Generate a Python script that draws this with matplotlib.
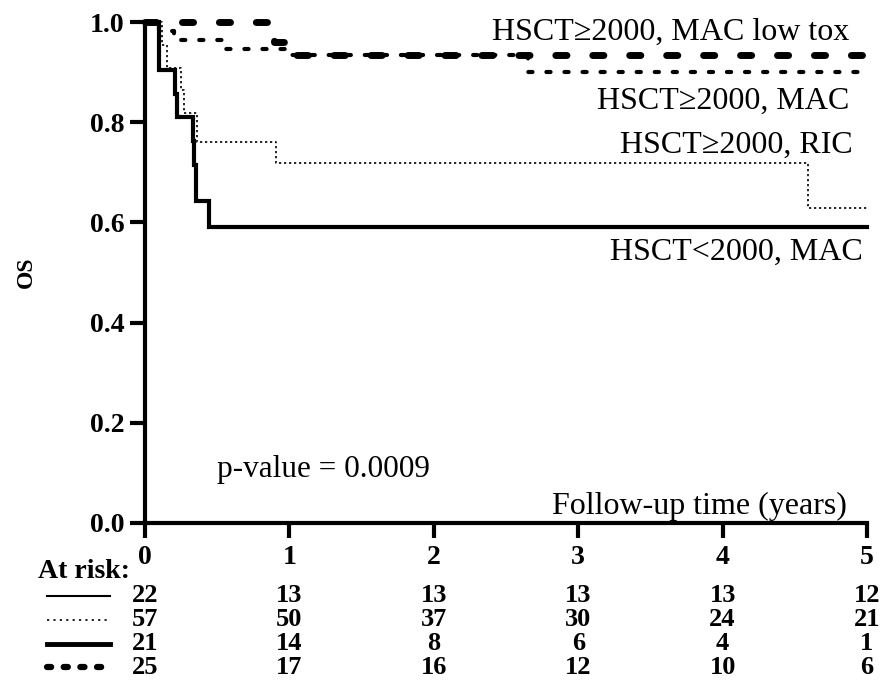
import matplotlib
matplotlib.use("Agg")
import matplotlib.pyplot as plt
from matplotlib import transforms

plt.rcParams['font.family'] = ['Liberation Serif', 'DejaVu Serif']
plt.rcParams['lines.scale_dashes'] = False

# Kaplan-Meier step data (years, survival)
t_lt2000_mac = [0, 0.10, 0.21, 0.22, 0.33, 0.34, 0.35, 0.44, 5.0]
s_lt2000_mac = [1.0, 0.905, 0.857, 0.81, 0.762, 0.714, 0.643, 0.59, 0.59]

t_ge2000_ric = [0, 0.12, 0.15, 0.25, 0.27, 0.36, 0.91, 4.59, 5.0]
s_ge2000_ric = [1.0, 0.955, 0.909, 0.864, 0.818, 0.76, 0.718, 0.628, 0.628]

t_ge2000_mac = [0, 0.10, 0.20, 0.53, 1.0, 2.65, 5.0]
s_ge2000_mac = [1.0, 0.982, 0.965, 0.947, 0.935, 0.90, 0.90]

t_ge2000_lowtox = [0, 0.89, 0.97, 5.0]
s_ge2000_lowtox = [1.0, 0.96, 0.935, 0.935]

# at-risk table
risk_times = [0, 1, 2, 3, 4, 5]
risk_rows = [
    [22, 13, 13, 13, 13, 12],
    [57, 50, 37, 30, 24, 21],
    [21, 14, 8, 6, 4, 1],
    [25, 17, 16, 12, 10, 6],
]

fig = plt.figure(figsize=(8.82, 6.81), dpi=100)
ax = fig.add_axes([145/882, 1-523/681, (867-145)/882, (523-22)/681])

thick_solid = dict(color='black', lw=3.0, solid_joinstyle='miter')
thin_dot = dict(color='black', lw=1.2, linestyle=(0, (1.6, 2.0)))
round_dot = dict(color='black', lw=3.0, linestyle=(0, (3, 10)), dash_capstyle='round')
big_dash = dict(color='black', lw=5.0, linestyle=(0, (8, 18.6)), dash_capstyle='round')

ax.step(t_lt2000_mac, s_lt2000_mac, where='post', clip_on=False, **thick_solid)
ax.step(t_ge2000_ric, s_ge2000_ric, where='post', clip_on=False, **thin_dot)
ax.step(t_ge2000_mac, s_ge2000_mac, where='post', clip_on=False, **round_dot)
ax.step(t_ge2000_lowtox, s_ge2000_lowtox, where='post', clip_on=False, **big_dash)

ax.set_xlim(0, 5)
ax.set_ylim(0, 1)
ax.set_xticks(risk_times)
ax.set_yticks([0, 0.2, 0.4, 0.6, 0.8, 1.0])
ax.set_yticklabels(['0.0', '0.2', '0.4', '0.6', '0.8', '1.0'])
for s in ['top', 'right']:
    ax.spines[s].set_visible(False)
for s in ['left', 'bottom']:
    ax.spines[s].set_linewidth(3)
ax.tick_params(axis='both', width=3, length=11, labelsize=20)
ax.tick_params(axis='y', pad=4)
ax.tick_params(axis='x', pad=5)
for lab in ax.get_xticklabels() + ax.get_yticklabels():
    lab.set_fontweight('bold')

ax.set_ylabel('OS', fontsize=17, fontweight='bold', labelpad=38)

lbl = dict(fontsize=23, ha='right', va='center')
ax.text(4.88, 0.98, 'HSCT≥2000, MAC low tox', **lbl)
ax.text(4.88, 0.842, 'HSCT≥2000, MAC', **lbl)
ax.text(4.90, 0.754, 'HSCT≥2000, RIC', **lbl)
ax.text(4.97, 0.54, 'HSCT<2000, MAC', **lbl)
ax.text(0.5, 0.106, 'p-value = 0.0009', fontsize=22.5, ha='left', va='center')
ax.text(4.86, 0.033, 'Follow-up time (years)', fontsize=23, ha='right', va='center')

# at-risk table below the axis
trans = transforms.blended_transform_factory(ax.transData, fig.transFigure)
fig.text(38/882, 1-572/681, 'At risk:', fontsize=20, fontweight='bold', va='center')
row_y = [596, 620, 644, 667]
samples = [dict(color='black', lw=1.5),
           dict(color='black', lw=1.2, linestyle=(0, (1.6, 3.0))),
           dict(color='black', lw=3.5),
           dict(color='black', lw=4.5, linestyle=(0, (3, 9)), dash_capstyle='round')]
for row, y, st in zip(risk_rows, row_y, samples):
    yf = 1 - y/681
    fig.add_artist(plt.Line2D([47/882, 110/882], [yf, yf], transform=fig.transFigure, **st))
    for t, n in zip(risk_times, row):
        ax.text(t, yf, str(n), transform=trans, fontsize=19, fontweight='bold',
                ha='center', va='center')

fig.savefig('out.png', dpi=100)
